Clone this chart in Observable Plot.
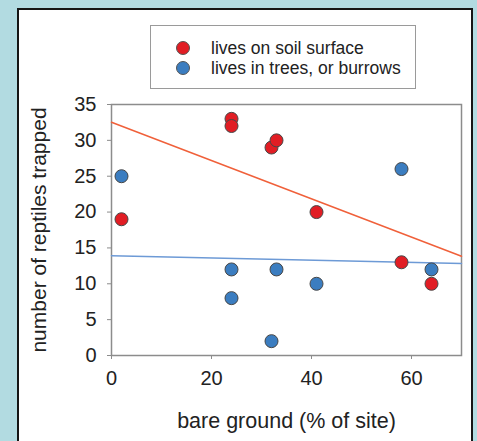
<!DOCTYPE html>
<html>
<head>
<meta charset="utf-8">
<script src="https://cdn.jsdelivr.net/npm/d3@7"></script>
<script src="https://cdn.jsdelivr.net/npm/@observablehq/plot@0.6"></script>
<style>
  html, body { margin: 0; padding: 0; }
  body { width: 477px; height: 441px; background: #b2dbe1; position: relative; overflow: hidden;
         font-family: "Liberation Sans", Arial, sans-serif; }
  #panel { position: absolute; left: 17px; top: 8px; width: 452px; height: 460px;
           background: #fff; border: 2px solid #151515; }
  #chart { position: absolute; left: 0; top: 0; }
  #legend { position: absolute; left: 150px; top: 25px; width: 266px; height: 64px;
            border: 1px solid #9a9a9a; background: #fff; box-sizing: border-box; }
  .item { position: absolute; left: 25px; font-size: 17.5px; line-height: 20px; color: #222; display: flex; align-items: center; }
  .sw { width: 12px; height: 12px; border-radius: 50%; border: 1px solid #555; margin-right: 21px; }
</style>
</head>
<body>
<div id="panel"></div>
<div id="chart"></div>
<div id="legend">
  <div class="item" style="top:12px"><span class="sw" style="background:#e11d24"></span>lives on soil surface</div>
  <div class="item" style="top:32px"><span class="sw" style="background:#3b7dc0"></span>lives in trees, or burrows</div>
</div>
<script>
const groundX = [2, 24, 24, 32, 33, 41, 58, 64];
const soilY   = [19, 33, 32, 29, 30, 20, 13, 10];
const treeX   = [2, 24, 24, 32, 33, 41, 58, 64];
const treeY   = [25, 12, 8, 2, 12, 10, 26, 12];
const xTicks  = [0, 20, 40, 60];
const yTicks  = [0, 5, 10, 15, 20, 25, 30, 35];
const xLabel  = "bare ground (% of site)";
const yLabel  = "number of reptiles trapped";

const soil = groundX.map((x, i) => ({x, y: soilY[i]}));
const tree = treeX.map((x, i) => ({x, y: treeY[i]}));

function fit(pts, x0, x1) {
  const mx = d3.mean(pts, d => d.x), my = d3.mean(pts, d => d.y);
  const sxy = d3.sum(pts, d => (d.x - mx) * (d.y - my));
  const sxx = d3.sum(pts, d => (d.x - mx) ** 2);
  const b = sxy / sxx, a = my - b * mx;
  return [{x: x0, y: a + b * x0}, {x: x1, y: a + b * x1}];
}
const soilFit = fit(soil, 0, 70);
const treeFit = fit(tree, 0, 70);

const plot = Plot.plot({
  width: 477, height: 441,
  marginLeft: 111, marginRight: 16, marginTop: 104, marginBottom: 86,
  style: {fontFamily: "'Liberation Sans', Arial, sans-serif", fontSize: "20px", color: "#222", background: "transparent", overflow: "visible"},
  x: {domain: [0, 70]},
  y: {domain: [0, 35]},
  marks: [
    Plot.frame({stroke: "#8c8c8c", strokeWidth: 1.5}),
    Plot.axisX({ticks: xTicks, tickSize: 4, tickPadding: 11, stroke: "#8c8c8c", fontSize: 20, label: null}),
    Plot.axisY({ticks: yTicks, tickSize: 4, tickPadding: 11, stroke: "#8c8c8c", fontSize: 20, label: null}),
    Plot.text([xLabel], {frameAnchor: "bottom", text: d => d, dy: 57, lineAnchor: "top", fontSize: 21.5, fill: "#222"}),
    Plot.text([yLabel], {frameAnchor: "left", text: d => d, dx: -72, rotate: -90, textAnchor: "middle", lineAnchor: "middle", fontSize: 21, fill: "#222"}),
    Plot.line(soilFit, {x: "x", y: "y", stroke: "#f0603a", strokeWidth: 1.5}),
    Plot.line(treeFit, {x: "x", y: "y", stroke: "#6d9ad6", strokeWidth: 1.5}),
    Plot.dot(tree, {x: "x", y: "y", r: 6.5, fill: "#3b7dc0", stroke: "#474747", strokeWidth: 1}),
    Plot.dot(soil, {x: "x", y: "y", r: 6.5, fill: "#e11d24", stroke: "#474747", strokeWidth: 1})
  ]
});
document.getElementById("chart").appendChild(plot);
</script>
</body>
</html>
